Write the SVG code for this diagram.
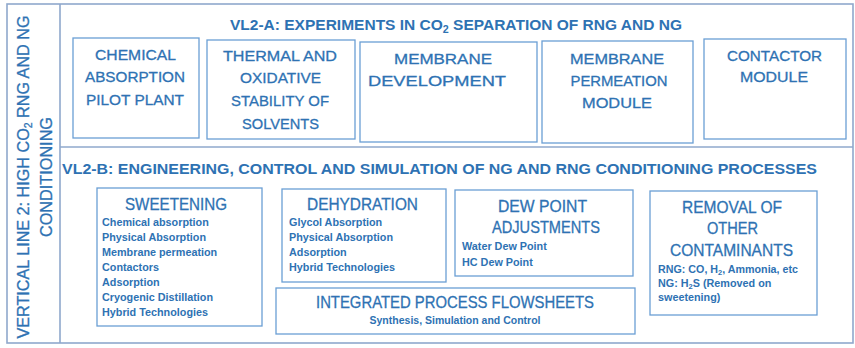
<svg xmlns="http://www.w3.org/2000/svg" width="855" height="348" viewBox="0 0 855 348">
  <style>
    .frame { fill: none; stroke: #8FA8CC; stroke-width: 1.6; }
    .box { fill: none; stroke: #6A9FD4; stroke-width: 1.3; }
    text { font-family: "Liberation Sans", Arial, sans-serif; fill: #2E72B3; }
    .head { font-weight: bold; font-size: 14.5px; }
    .side { font-size: 17px; text-anchor: middle; stroke: #2E72B3; stroke-width: 0.3; }
    .ta { font-size: 15px; text-anchor: middle; stroke: #2E72B3; stroke-width: 0.3; }
    .tb { font-size: 17px; text-anchor: middle; stroke: #2E72B3; stroke-width: 0.3; }
    .item { font-size: 10.8px; font-weight: bold; }
    .sub { font-size: 10.5px; font-weight: bold; text-anchor: middle; }
  </style>

  <rect width="855" height="348" fill="#FFFFFF"/>

  <!-- outer frame and section dividers -->
  <g id="frame">
    <rect class="frame" x="7" y="4" width="846" height="339"/>
    <line class="frame" x1="60" y1="4" x2="60" y2="343"/>
    <line class="frame" x1="60" y1="147" x2="853" y2="147"/>
  </g>

  <!-- vertical line caption -->
  <g id="side-label">
    <text class="side" transform="translate(29,177) rotate(-90)" textLength="323" lengthAdjust="spacingAndGlyphs">VERTICAL LINE 2: HIGH CO<tspan font-size="11px" dy="3">2</tspan><tspan dy="-3"> RNG AND NG</tspan></text>
    <text class="side" transform="translate(52,177) rotate(-90)" textLength="120" lengthAdjust="spacingAndGlyphs">CONDITIONING</text>
  </g>

  <!-- section A -->
  <g id="vl2a-title">
    <text class="head" x="230" y="30" textLength="452" lengthAdjust="spacingAndGlyphs">VL2-A: EXPERIMENTS IN CO<tspan font-size="10px" dy="3">2</tspan><tspan dy="-3"> SEPARATION OF RNG AND NG</tspan></text>
  </g>

  <g id="chemical-absorption">
    <rect class="box" x="73" y="38" width="126" height="100"/>
    <text class="ta" x="135.5" y="60" textLength="81" lengthAdjust="spacingAndGlyphs">CHEMICAL</text>
    <text class="ta" x="135" y="82" textLength="100" lengthAdjust="spacingAndGlyphs">ABSORPTION</text>
    <text class="ta" x="135" y="105" textLength="98" lengthAdjust="spacingAndGlyphs">PILOT PLANT</text>
  </g>

  <g id="thermal-stability">
    <rect class="box" x="207" y="40" width="148" height="99"/>
    <text class="ta" x="280" y="61" textLength="114" lengthAdjust="spacingAndGlyphs">THERMAL AND</text>
    <text class="ta" x="280.5" y="83" textLength="81" lengthAdjust="spacingAndGlyphs">OXIDATIVE</text>
    <text class="ta" x="280" y="106" textLength="98" lengthAdjust="spacingAndGlyphs">STABILITY OF</text>
    <text class="ta" x="280.5" y="129" textLength="77" lengthAdjust="spacingAndGlyphs">SOLVENTS</text>
  </g>

  <g id="membrane-development">
    <rect class="box" x="360" y="42" width="177" height="100"/>
    <text class="ta" x="443" y="64" textLength="98" lengthAdjust="spacingAndGlyphs">MEMBRANE</text>
    <text class="ta" x="437" y="86" textLength="138" lengthAdjust="spacingAndGlyphs">DEVELOPMENT</text>
  </g>

  <g id="membrane-permeation">
    <rect class="box" x="542" y="41" width="151" height="102"/>
    <text class="ta" x="617" y="64" textLength="94" lengthAdjust="spacingAndGlyphs">MEMBRANE</text>
    <text class="ta" x="619" y="86" textLength="97" lengthAdjust="spacingAndGlyphs">PERMEATION</text>
    <text class="ta" x="617" y="108" textLength="70" lengthAdjust="spacingAndGlyphs">MODULE</text>
  </g>

  <g id="contactor-module">
    <rect class="box" x="704" y="39" width="142" height="100"/>
    <text class="ta" x="774.5" y="61" textLength="95" lengthAdjust="spacingAndGlyphs">CONTACTOR</text>
    <text class="ta" x="774" y="82" textLength="68" lengthAdjust="spacingAndGlyphs">MODULE</text>
  </g>

  <!-- section B -->
  <g id="vl2b-title">
    <text class="head" x="62" y="174" textLength="755" lengthAdjust="spacingAndGlyphs">VL2-B: ENGINEERING, CONTROL AND SIMULATION OF NG AND RNG CONDITIONING PROCESSES</text>
  </g>

  <g id="sweetening">
    <rect class="box" x="97" y="188" width="165" height="138"/>
    <text class="tb" x="176" y="210" textLength="102" lengthAdjust="spacingAndGlyphs">SWEETENING</text>
    <text class="item" x="102" y="226">Chemical absorption</text>
    <text class="item" x="102" y="241">Physical Absorption</text>
    <text class="item" x="102" y="256">Membrane permeation</text>
    <text class="item" x="102" y="271">Contactors</text>
    <text class="item" x="102" y="286">Adsorption</text>
    <text class="item" x="102" y="301">Cryogenic Distillation</text>
    <text class="item" x="102" y="316">Hybrid Technologies</text>
  </g>

  <g id="dehydration">
    <rect class="box" x="282" y="189" width="164" height="93"/>
    <text class="tb" x="362.5" y="210" textLength="111" lengthAdjust="spacingAndGlyphs">DEHYDRATION</text>
    <text class="item" x="289" y="226">Glycol Absorption</text>
    <text class="item" x="289" y="241">Physical Absorption</text>
    <text class="item" x="289" y="256">Adsorption</text>
    <text class="item" x="289" y="271">Hybrid Technologies</text>
  </g>

  <g id="dew-point">
    <rect class="box" x="455" y="190" width="178" height="86"/>
    <text class="tb" x="542.5" y="212" textLength="89" lengthAdjust="spacingAndGlyphs">DEW POINT</text>
    <text class="tb" x="546" y="233" textLength="108" lengthAdjust="spacingAndGlyphs">ADJUSTMENTS</text>
    <text class="item" x="462" y="250">Water Dew Point</text>
    <text class="item" x="462" y="266">HC Dew Point</text>
  </g>

  <g id="other-contaminants">
    <rect class="box" x="650" y="191" width="167" height="124"/>
    <text class="tb" x="732" y="213" textLength="100" lengthAdjust="spacingAndGlyphs">REMOVAL OF</text>
    <text class="tb" x="732.5" y="234" textLength="51" lengthAdjust="spacingAndGlyphs">OTHER</text>
    <text class="tb" x="731.5" y="256" textLength="123" lengthAdjust="spacingAndGlyphs">CONTAMINANTS</text>
    <text class="item" x="658" y="273" textLength="140" lengthAdjust="spacingAndGlyphs">RNG: CO, H<tspan font-size="7.5px" dy="2">2</tspan><tspan dy="-2">, Ammonia, etc</tspan></text>
    <text class="item" x="658" y="287">NG: H<tspan font-size="7.5px" dy="2">2</tspan><tspan dy="-2">S (Removed on</tspan></text>
    <text class="item" x="658" y="301">sweetening)</text>
  </g>

  <g id="integrated-flowsheets">
    <rect class="box" x="276" y="288" width="359" height="46"/>
    <text class="tb" x="455" y="308" textLength="278" lengthAdjust="spacingAndGlyphs">INTEGRATED PROCESS FLOWSHEETS</text>
    <text class="sub" x="455" y="324">Synthesis, Simulation and Control</text>
  </g>

  <!-- the layout has no connectors -->
  <g id="connectors"/>
</svg>
